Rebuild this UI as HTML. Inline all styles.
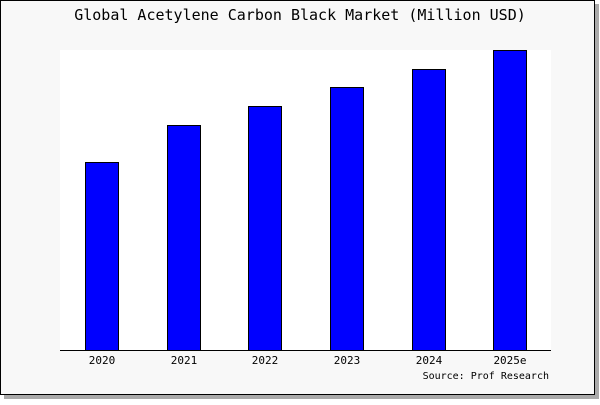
<!DOCTYPE html>
<html><head><style>
body{margin:0;width:600px;height:400px;background:#fff;}
</style></head><body>
<svg width="600" height="400" xmlns="http://www.w3.org/2000/svg" font-family="'DejaVu Sans Mono','Liberation Mono',monospace">
<rect x="4" y="4" width="595" height="395" fill="#aaa"/>
<rect x="0.5" y="0.5" width="594" height="394" fill="#f8f8f8" stroke="#000"/>
<rect x="60" y="50" width="491" height="300" fill="#fff"/>
<text x="300" y="20" font-size="15" text-anchor="middle" fill="#000">Global Acetylene Carbon Black Market (Million USD)</text>
<g fill="#0000ff" stroke="#000" stroke-width="1">
<rect x="85.5" y="162.5" width="33" height="188"/>
<rect x="167.5" y="125.5" width="33" height="225"/>
<rect x="248.5" y="106.5" width="33" height="244"/>
<rect x="330.5" y="87.5" width="33" height="263"/>
<rect x="412.5" y="69.5" width="33" height="281"/>
<rect x="493.5" y="50.5" width="33" height="300"/>
</g>
<line x1="60" y1="350.5" x2="551" y2="350.5" stroke="#000"/>
<g font-size="11" text-anchor="middle" fill="#000">
<text x="102" y="364">2020</text>
<text x="184" y="364">2021</text>
<text x="265" y="364">2022</text>
<text x="347" y="364">2023</text>
<text x="429" y="364">2024</text>
<text x="510" y="364">2025e</text>
<text x="549" y="379" text-anchor="end" font-size="10">Source: Prof Research</text>
</g>
</svg>
</body></html>
